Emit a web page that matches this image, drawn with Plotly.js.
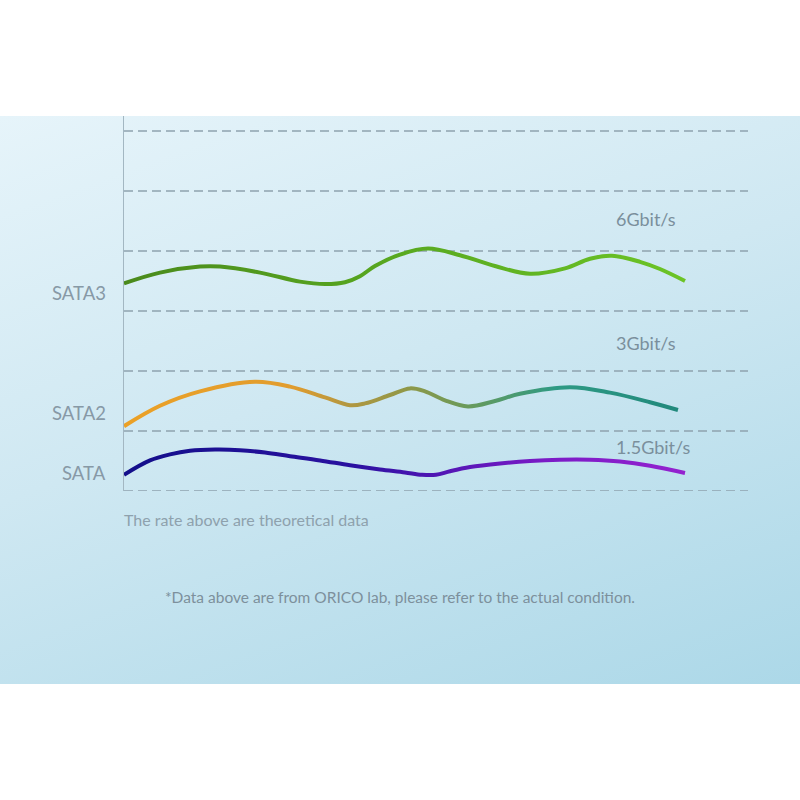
<!DOCTYPE html>
<html>
<head>
<meta charset="utf-8">
<script src="https://cdn.plot.ly/plotly-3.0.1.min.js"></script>
<style>
  html, body { margin: 0; padding: 0; background: #ffffff; width: 800px; height: 800px; overflow: hidden; }
  #panel { position: absolute; left: 0; top: 116px; width: 800px; height: 568px;
           background: linear-gradient(160deg, #e6f4fa 0%, #cfe8f2 45%, #acd8e8 100%); }
  #chart { position: absolute; left: 0; top: 0; width: 800px; height: 800px; }
</style>
</head>
<body>
<div id="panel"></div>
<div id="chart"></div>
<svg width="0" height="0" style="position:absolute">
  <defs id="gdefs"></defs>
</svg>
<script>
// ---- data ----
const sata3X = [0,6,12.67,16,22.67,29.33,33.5,36.83,39.33,41.83,46,50.67,56,61.83,67.67,73.5,77.67,81.33,86,89.33,93.5];
const sata3Y = [3.46,3.64,3.74,3.74,3.64,3.49,3.45,3.48,3.58,3.75,3.94,4.04,3.93,3.75,3.62,3.71,3.87,3.92,3.82,3.70,3.50];

const sata2X = [0,6,12.67,21.83,27.67,33.5,37.67,40.17,44.33,47.67,50.17,53.5,57.33,61.83,66,74.33,81,87.67,92.33];
const sata2Y = [1.08,1.42,1.66,1.82,1.74,1.56,1.43,1.46,1.60,1.71,1.66,1.51,1.41,1.50,1.62,1.73,1.64,1.48,1.35];

const sataX = [0,4.33,7.67,11,15.17,19.33,23.5,27.67,32.67,37.67,42.67,46.83,49.67,52,54.33,57.67,62.67,67.67,72.67,77.67,82.67,87.67,93.5];
const sataY = [0.27,0.51,0.61,0.67,0.69,0.68,0.64,0.58,0.51,0.43,0.36,0.31,0.27,0.27,0.33,0.40,0.46,0.50,0.52,0.52,0.49,0.42,0.30];

const gridLevels = [0,1,2,3,4,5,6];
const labelNames = ['SATA3','SATA2','SATA'];
const labelLevels = [3.3, 1.3, 0.3];
const rateNames = ['6Gbit/s','3Gbit/s','1.5Gbit/s'];
const rateLevels = [4.53, 2.47, 0.73];
const rateX = 81.7;
const noteText = 'The rate above are theoretical data';
const footText = '*Data above are from ORICO lab, please refer to the actual condition.';

// ---- styles ----
const stops3 = [[0,'#4a8a1c'],[45,'#58a820'],[93.5,'#6cc426']];
const stops2 = [[0,'#eba126'],[28,'#e19c2e'],[37,'#b39740'],[47,'#909848'],[57,'#6a9a5a'],[72,'#2e9a84'],[92.3,'#21897c']];
const stops1 = [[0,'#130f8a'],[38,'#2a11a0'],[50,'#4b15b1'],[70,'#7a1bc6'],[93.5,'#9422cf']];

const series = [
  {x:sata3X, y:sata3Y, stops:stops3, mid:'#58a820'},
  {x:sata2X, y:sata2Y, stops:stops2, mid:'#909848'},
  {x:sataX,  y:sataY,  stops:stops1, mid:'#4b15b1'}
];

// gradient definitions (paint only)
const defs = document.getElementById('gdefs');
series.forEach((s,i)=>{
  const ns = 'http://www.w3.org/2000/svg';
  const g = document.createElementNS(ns,'linearGradient');
  g.setAttribute('id','lg'+i);
  g.setAttribute('x1','0'); g.setAttribute('y1','0'); g.setAttribute('x2','1'); g.setAttribute('y2','0');
  const x0 = s.x[0], x1 = s.x[s.x.length-1];
  s.stops.forEach(st=>{
    const e = document.createElementNS(ns,'stop');
    e.setAttribute('offset', String(Math.min(1,Math.max(0,(st[0]-x0)/(x1-x0)))));
    e.setAttribute('stop-color', st[1]);
    g.appendChild(e);
  });
  defs.appendChild(g);
});

const traces = series.map(s=>({
  x:s.x, y:s.y, type:'scatter', mode:'lines',
  line:{shape:'spline', smoothing:1, width:4, color:s.mid, simplify:false}, hoverinfo:'skip'
}));

const layout = {
  width: 800, height: 800,
  margin: {l:124, r:52, t:116, b:309, pad:0},
  paper_bgcolor: 'rgba(0,0,0,0)',
  plot_bgcolor: 'rgba(0,0,0,0)',
  showlegend: false,
  xaxis: {range:[0,104], visible:false, fixedrange:true},
  yaxis: {range:[0,6.25], showgrid:false, zeroline:false,
          showline:true, linecolor:'#a3b7c2', linewidth:1.3, showticklabels:false, ticks:'', fixedrange:true},
  shapes: [],
  annotations: []
};

gridLevels.forEach(v=>{
  layout.shapes.push({type:'line', xref:'paper', x0:0, x1:1, yref:'y', y0:v, y1:v, layer:'below',
                      line:{color:'#8ea3ae', width:1.3, dash:'9px,5px'}});
});

labelNames.forEach((t,i)=>{
  layout.annotations.push({text:t, xref:'paper', x:0, xshift:-16, xanchor:'right', yref:'y', y:labelLevels[i],
    yanchor:'middle', showarrow:false, font:{family:'Lato', size:18.5, color:'#8799a6'}});
});
rateNames.forEach((t,i)=>{
  layout.annotations.push({text:t, xref:'x', x:rateX, xanchor:'left', yref:'y', y:rateLevels[i],
    yanchor:'middle', showarrow:false, font:{family:'Lato', size:18, color:'#7a8f9c'}});
});
layout.annotations.push({text:noteText, xref:'paper', x:0, xshift:-2, xanchor:'left', yref:'paper', y:-0.077, yanchor:'middle',
  showarrow:false, font:{family:'Lato', size:16, color:'#8ea1ad'}});
layout.annotations.push({text:footText, xref:'paper', x:0.4423, xanchor:'center', yref:'paper', y:-0.283, yanchor:'middle',
  showarrow:false, font:{family:'Lato', size:15.5, color:'#7d909c'}});

Plotly.newPlot('chart', traces, layout, {staticPlot:true, displayModeBar:false}).then(gd=>{
  const tr = gd.querySelectorAll('.scatterlayer .trace');
  tr.forEach((t,i)=>{
    const p = t.querySelector('path.js-line');
    if (p) p.style.stroke = 'url(#lg'+i+')';
  });
});
</script>
</body>
</html>
